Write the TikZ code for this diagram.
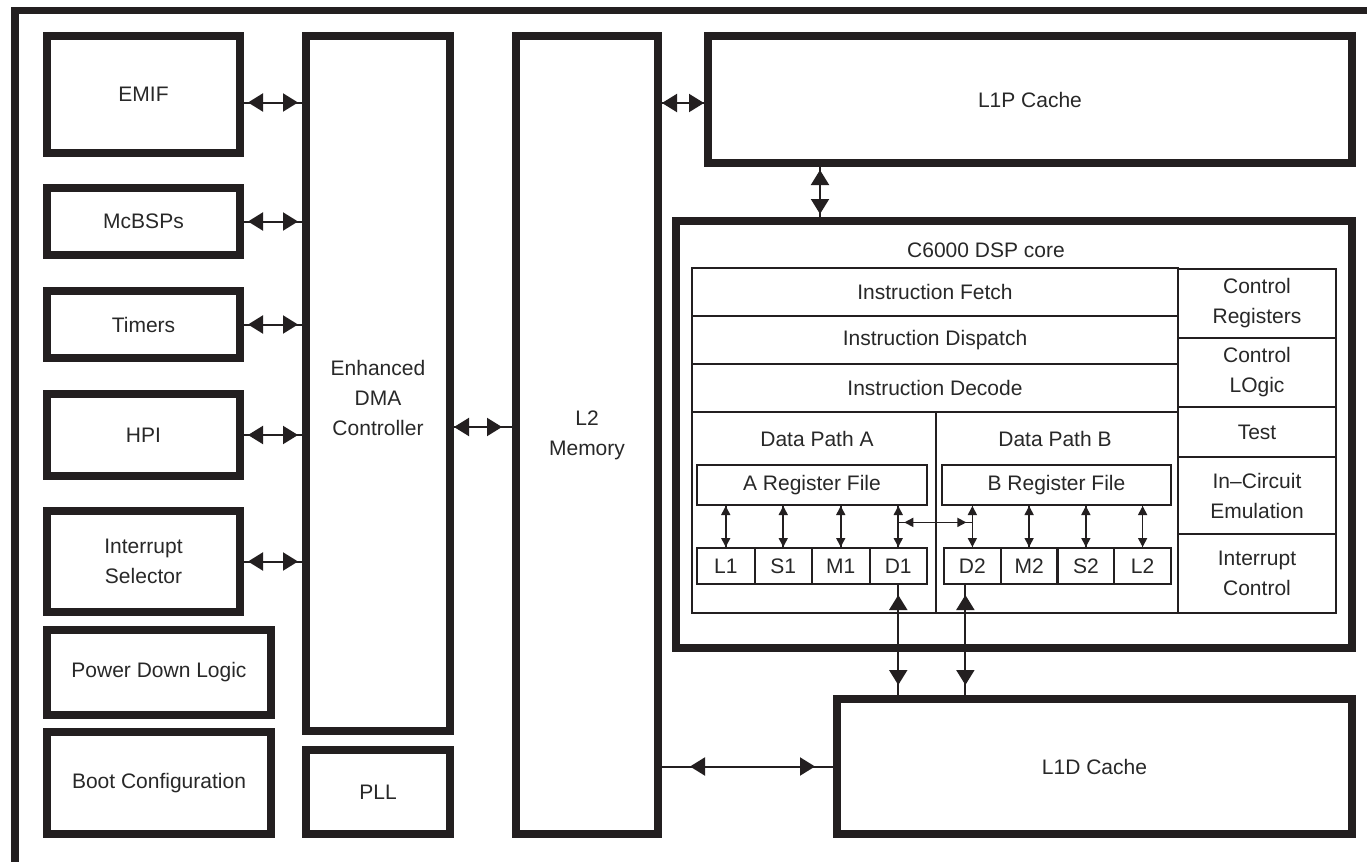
\documentclass[tikz,border=0pt]{standalone}
\usepackage{fontspec}
\setmainfont{Liberation Sans}
\usepackage{xcolor}
\usepackage{tikz}
\usetikzlibrary{calc, arrows.meta, positioning}

\definecolor{ink}{RGB}{35,31,32}
\definecolor{txt}{RGB}{40,40,40}

\tikzset{
    lab/.style={font=\fontsize{10.5}{15}\selectfont, text=txt, align=center, inner sep=0pt},
    blk/.style={lab, draw=ink, line width=3.8pt},
    cell/.style={lab, draw=ink, line width=1pt},
    bus/.style={draw=ink, line width=1pt, postaction={draw, <->, shorten <=#1, shorten >=#1}},
    bus/.default=0pt,
    bustwo/.style 2 args={draw=ink, line width=1pt, postaction={draw, <->, shorten <=#1, shorten >=#2}},
    sbus/.style={draw=ink, line width=.8pt, postaction={draw,
        {Triangle[length=4.5pt,width=4.5pt]}-{Triangle[length=4.5pt,width=4.5pt]},
        shorten <=#1, shorten >=#1}},
    sbus/.default=0pt
}

\begin{document}
\begin{tikzpicture}[x=0.5pt, y=-0.5pt, >={Triangle[length=7.5pt,width=9pt]}]
    \useasboundingbox (0,0) rectangle (1367,862);
    \fill[white] (0,0) rectangle (1367,862);

    % Rahmen
    \draw[ink, line width=3.7pt] (1367,10.5) -- (15,10.5) -- (15,862);

    % Peripherie links
    \node[blk, minimum width=96.7pt, minimum height=58.7pt] (EMIF) at (143.5,94.5) {EMIF};
    \node[blk, minimum width=96.7pt, minimum height=33.7pt] (McBSP) at (143.5,221.5) {McBSPs};
    \node[blk, minimum width=96.7pt, minimum height=33.7pt] (Timers) at (143.5,324.5) {Timers};
    \node[blk, minimum width=96.7pt, minimum height=41.2pt] (HPI) at (143.5,435) {HPI};
    \node[blk, minimum width=96.7pt, minimum height=50.7pt] (IntSel) at (143.5,561.5) {Interrupt\\Selector};
    \node[blk, minimum width=112.2pt, minimum height=42.7pt] (PDL) at (159,672.5) {Power Down Logic};
    \node[blk, minimum width=112.2pt, minimum height=51.2pt] (Boot) at (159,783) {Boot Configuration};

    % DMA, PLL, L2
    \node[blk, minimum width=72.2pt, minimum height=347.7pt] (DMA) at (378,383.5) {};
    \node[lab] (DMAtxt) at (378,398) {Enhanced\\DMA\\Controller};
    \node[blk, minimum width=72.2pt, minimum height=42.2pt] (PLL) at (378,792) {PLL};
    \node[blk, minimum width=71.2pt, minimum height=399.2pt] (L2mem) at (587,435) {L2\\Memory};

    % Caches
    \node[blk, minimum width=322.2pt, minimum height=63.7pt] (L1P) at (1030,99.5) {L1P Cache};
    \node[blk, minimum width=257.7pt, minimum height=67.7pt] (L1D) at (1094.5,766.5) {L1D Cache};

    % CPU-Kern
    \node[blk, minimum width=338.2pt, minimum height=213.7pt] (core) at (1014,434.5) {};
    \node[lab] (coretxt) at (986,250) {C6000 DSP core};

    \node[cell, minimum width=243pt, minimum height=24pt] (fetch) at (935,292) {Instruction Fetch};
    \node[cell, minimum width=243pt, minimum height=24pt] (disp) at (935,340) {Instruction Dispatch};
    \node[cell, minimum width=243pt, minimum height=24pt] (dec) at (935,388) {Instruction Decode};

    \node[cell, minimum width=122pt, minimum height=100.5pt] (DPA) at (814,512.5) {};
    \node[cell, minimum width=121pt, minimum height=100.5pt] (DPB) at (1057,512.5) {};
    \node[lab] (DPAtxt) at (817,439) {Data Path A};
    \node[lab] (DPBtxt) at (1055,439) {Data Path B};
    \node[cell, minimum width=115pt, minimum height=20pt] (ARF) at (812,485) {A Register File};
    \node[cell, minimum width=114.5pt, minimum height=20pt] (BRF) at (1056.5,485) {B Register File};

    % Funktionseinheiten
    \foreach \u [count=\i] in {L1,S1,M1,D1} {
        \node[cell, minimum width=28.75pt, minimum height=18pt] (u\u) at ({697+57.5*(\i-0.5)},566) {\u};
        \draw[sbus] (u\u.north) -- (u\u.north |- ARF.south);
    }
    \foreach \u [count=\i] in {D2,M2,S2,L2} {
        \node[cell, minimum width=28.4pt, minimum height=18pt] (u\u) at ({944+56.75*(\i-0.5)},566) {\u};
        \draw[sbus] (u\u.north) -- (u\u.north |- BRF.south);
    }
    \coordinate (xa) at ($(uD1.north)!.6!(uD1.north |- ARF.south)$);
    \draw[sbus=3pt] (xa) -- (xa -| uD2.north);

    % Steuerspalte
    \node[cell, minimum width=79pt, minimum height=34.5pt] (creg) at (1257,303.5) {Control\\Registers};
    \node[cell, minimum width=79pt, minimum height=34.5pt] (clog) at (1257,372.5) {Control\\LOgic};
    \node[cell, minimum width=79pt, minimum height=25pt] (test) at (1257,432) {Test};
    \node[cell, minimum width=79pt, minimum height=38.5pt] (ice) at (1257,495.5) {In--Circuit\\Emulation};
    \node[cell, minimum width=79pt, minimum height=39.5pt] (ictl) at (1257,573.5) {Interrupt\\Control};

    % Busse
    \draw[bus=2pt] ([yshift=-4pt]EMIF.east) -- ([yshift=-4pt]EMIF.east -| DMA.west);
    \foreach \b in {McBSP,Timers,HPI,IntSel}
        \draw[bus=2pt] (\b.east) -- (\b.east -| DMA.west);
    \draw[bustwo={0pt}{5pt}] (DMA.east |- 0,427) -- (L2mem.west |- 0,427);
    \draw[bus] (L2mem.east |- 0,103) -- (L1P.west |- 0,103);
    \draw[bus=1.5pt] (L1P.south -| 820,0) -- (core.north -| 820,0);
    \draw[bustwo={14pt}{9pt}] (L2mem.east |- L1D.west) -- (L1D.west);
    \draw[bus=5pt] (uD1.south) -- (uD1.south |- L1D.north);
    \draw[bus=5pt] ([xshift=-3.5pt]uD2.south) -- ([xshift=-3.5pt]uD2.south |- L1D.north);
\end{tikzpicture}
\end{document}
